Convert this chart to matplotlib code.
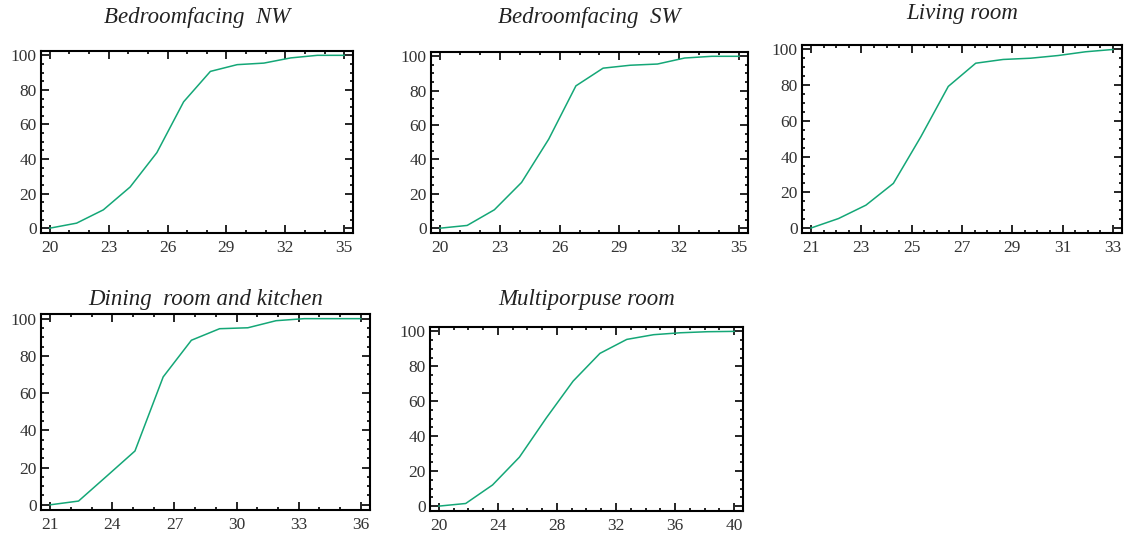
import numpy as np
import matplotlib
matplotlib.use("Agg")
import matplotlib.pyplot as plt
from matplotlib.ticker import MultipleLocator

plt.rcParams['font.family'] = ['Liberation Serif', 'DejaVu Serif']

# data (12 points per room)
titles = ["Bedroomfacing  NW", "Bedroomfacing  SW", "Living room",
          "Dining  room and kitchen", "Multiporpuse room"]

x_nw = np.linspace(20, 35, 12)
y_nw = [0, 2.9, 10.6, 23.8, 43.7, 73.1, 90.7, 94.6, 95.5, 98.5, 100, 100]

x_sw = np.linspace(20, 35, 12)
y_sw = [0, 1.6, 10.7, 26.6, 51.8, 82.8, 93.1, 94.8, 95.5, 99, 100, 100]

x_lr = np.linspace(21, 33, 12)
y_lr = [0, 5.3, 12.8, 25, 51.1, 79.3, 92.3, 94.4, 95.1, 96.6, 98.7, 100]

x_dk = np.linspace(21, 36, 12)
y_dk = [0, 2, 15.4, 28.9, 68.7, 88.4, 94.6, 95.1, 98.9, 100, 100, 100]

x_mp = np.linspace(20, 40, 12)
y_mp = [0, 1.5, 12.1, 28, 50.4, 71.5, 87.4, 95.4, 98.1, 99.2, 99.8, 100]

xs = [x_nw, x_sw, x_lr, x_dk, x_mp]
ys = [y_nw, y_sw, y_lr, y_dk, y_mp]
xmaj = [3, 3, 2, 3, 4]
xmin = [1, 1, 0.5, 1, 1]

W, H = 1126, 537
# axes frames in pixels: left, right, top, bottom
boxes = [(41, 353, 51, 233), (431, 748, 52, 233), (802, 1122, 45, 233),
         (41, 370, 314, 510), (430, 743, 327, 511)]
title_y = [18, 18, 14, 300, 300]

fig = plt.figure(figsize=(W / 100, H / 100), dpi=100)

for i in range(5):
    l, r, t, b = boxes[i]
    ax = fig.add_axes([l / W, 1 - b / H, (r - l) / W, (b - t) / H])
    ax.plot(xs[i], ys[i], color='#14a777', lw=1.1)
    x0, x1 = xs[i][0], xs[i][-1]
    pad = (x1 - x0) * 0.03
    ax.set_xlim(x0 - pad, x1 + pad)
    ax.set_ylim(-2.8, 102.5)
    ax.set_xticks(np.arange(x0, x1 + 0.01, xmaj[i]))
    ax.xaxis.set_minor_locator(MultipleLocator(xmin[i]))
    ax.set_yticks(np.arange(0, 101, 20))
    ax.yaxis.set_minor_locator(MultipleLocator(5))
    ax.tick_params(which='both', direction='in', top=True, right=True,
                   labelsize=12.5, labelcolor='#333333', width=1.2, pad=3)
    ax.tick_params(axis='x', which='major', pad=5)
    ax.tick_params(which='major', length=5.5)
    ax.tick_params(which='minor', length=2.5)
    for s in ax.spines.values():
        s.set_linewidth(1.5)
    ax.set_xticklabels([str(int(v)) for v in np.arange(x0, x1 + 0.01, xmaj[i])])
    cx = (l + r) / 2 / W
    fig.text(cx, 1 - title_y[i] / H, titles[i], ha='center', va='center',
             fontsize=16.5, style='italic', color='#222222')

fig.savefig("out.png", dpi=100)
